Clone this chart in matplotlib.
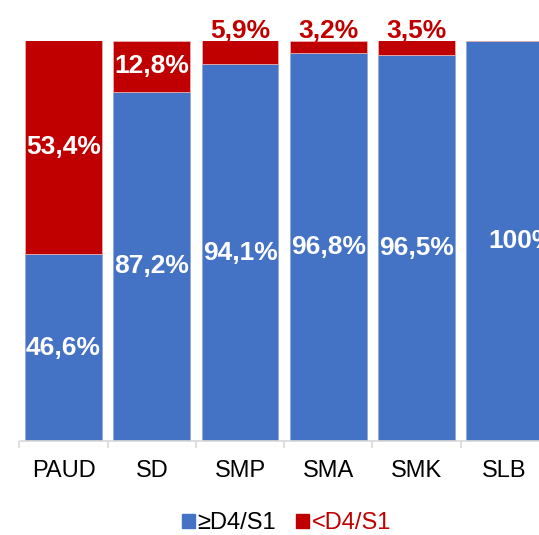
import matplotlib
matplotlib.use("Agg")
import matplotlib.pyplot as plt
from matplotlib.patches import Rectangle

plt.rcParams['font.family'] = ['Liberation Sans', 'DejaVu Sans']

categories = ["PAUD", "SD", "SMP", "SMA", "SMK", "SLB"]
high = [46.6, 87.2, 94.1, 96.8, 96.5, 100.0]
low = [53.4, 12.8, 5.9, 3.2, 3.5, 0.0]
series_names = ["≥D4/S1", "<D4/S1"]

BLUE = "#4472C4"
RED = "#C00000"

fig = plt.figure(figsize=(5.39, 5.35), dpi=100)
ax = fig.add_axes([19.5 / 539, 1 - 441 / 535, 529.2 / 539, 400.5 / 535])

x = list(range(len(categories)))
w = 0.873
ax.bar(x, high, width=w, color=BLUE, edgecolor="#8FAADC", linewidth=0.6)
ax.bar(x, low, width=w, bottom=high, color=RED, edgecolor="#E8B0B0", linewidth=0.6)

def fmt(v):
    if abs(v - round(v)) < 1e-9 and v >= 100:
        return f"{int(round(v))}%"
    return f"{v:.1f}%".replace(".", ",")

LBL = 19
for i, (h, l) in enumerate(zip(high, low)):
    if h >= 100:
        # full-height bar: label sits slightly right of centre, as in the source
        ax.annotate(fmt(h), (i, h / 2), xytext=(-12, 0), textcoords="offset points",
                    ha="left", va="center", color="white", fontsize=LBL, fontweight="bold")
    else:
        ax.text(i, h / 2, fmt(h), ha="center", va="center", color="white",
                fontsize=LBL, fontweight="bold")
    if l <= 0:
        continue
    if l >= 10:
        ax.text(i, h + l / 2, fmt(l), ha="center", va="center", color="white",
                fontsize=LBL, fontweight="bold")
    else:
        ax.annotate(fmt(l), (i, 100), xytext=(0, 2), textcoords="offset points",
                    ha="center", va="baseline", color=RED,
                    fontsize=LBL, fontweight="bold", annotation_clip=False)

ax.set_xlim(-0.5, len(categories) - 0.5)
ax.set_ylim(0, 100)
ax.set_yticks([])
for s in ["left", "right", "top"]:
    ax.spines[s].set_visible(False)
ax.spines["bottom"].set_color("#D9D9D9")
ax.spines["bottom"].set_linewidth(1.2)

ax.set_xticks([i - 0.5 for i in range(len(categories) + 1)])
ax.set_xticklabels([])
ax.tick_params(axis="x", which="major", length=5, width=1.2, color="#D9D9D9")
ax.set_xticks(x, minor=True)
ax.set_xticklabels(categories, minor=True, fontsize=17)
ax.tick_params(axis="x", which="minor", length=0, pad=14)

handles = [Rectangle((0, 0), 1, 1, color=BLUE), Rectangle((0, 0), 1, 1, color=RED)]
leg = fig.legend(handles, series_names, loc="center", bbox_to_anchor=(0.532, 0.022),
                 ncol=2, frameon=False, fontsize=17, handlelength=0.55, handleheight=0.55,
                 handletextpad=0.1, columnspacing=0.85, borderaxespad=0)
leg.get_texts()[1].set_color(RED)

fig.savefig("out.png", dpi=100)
